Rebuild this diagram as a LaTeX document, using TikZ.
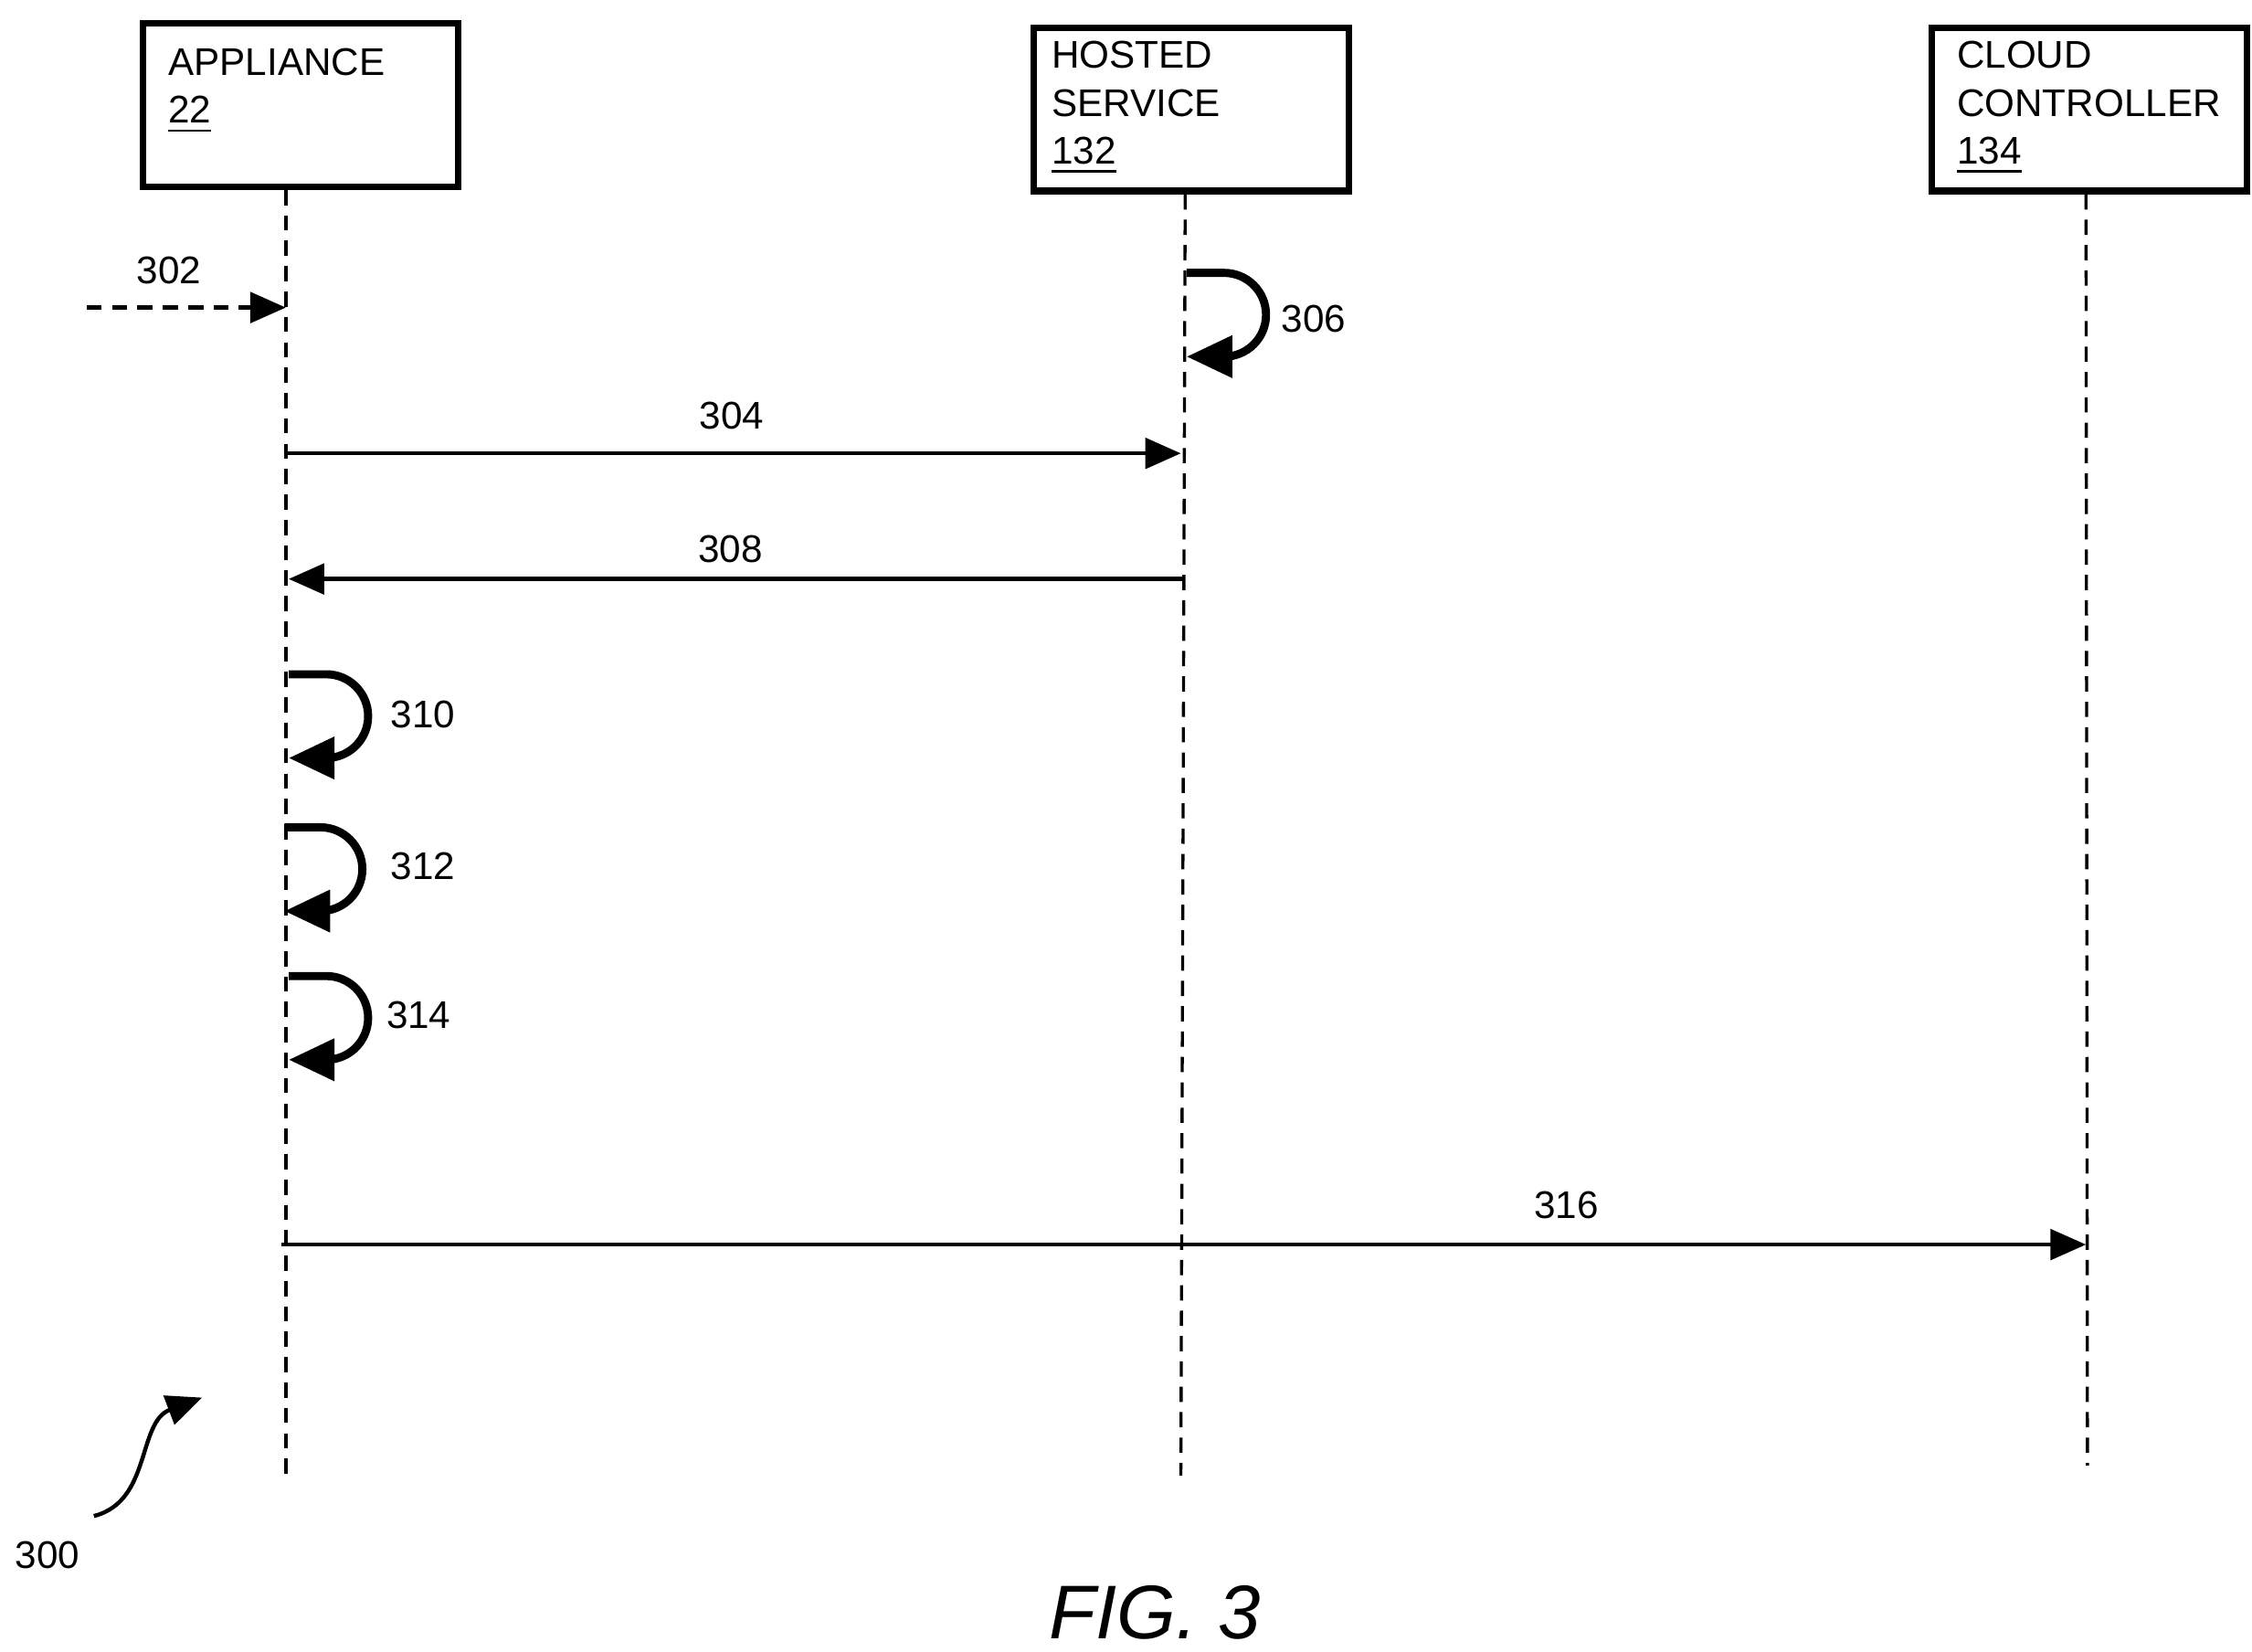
\documentclass[tikz,border=0pt]{standalone}
\usepackage{fontspec}
\setmainfont{Liberation Sans}
\usetikzlibrary{arrows.meta}
\begin{document}
\begin{tikzpicture}[x=0.1mm,y=-0.1mm,
 box/.style={draw,line width=1.3pt,minimum width=21.8mm,minimum height=11.3mm,inner sep=0pt},
 btxt/.style={anchor=north west,align=left,font=\fontsize{7.6pt}{9.4pt}\selectfont,inner sep=0pt},
 lab/.style={font=\fontsize{7.6pt}{9pt}\selectfont,inner sep=0pt},
 life/.style={dash pattern=on 3pt off 2pt,line width=0.6pt},
 msg/.style={line width=0.8pt,-{Triangle[length=7pt,width=6pt]}},
 loop/.style={line width=1.6pt,-{Triangle[length=9pt,width=8pt]}}]
\useasboundingbox (0,0) rectangle (1560,1144);
\node[box,anchor=north west] (a) at (97,14) {};
\node[box,anchor=north west] (h) at (714,17) {};
\node[box,anchor=north west] (c) at (1336,17) {};
\node[btxt] (at) at (116,33) {APPLIANCE\\\underline{22}};
\node[btxt] (ht) at (728,28) {HOSTED\\SERVICE\\\underline{132}};
\node[btxt] (ct) at (1355,28) {CLOUD\\CONTROLLER\\\underline{134}};
\coordinate (ae) at (198,1022);
\coordinate (he) at (818,1022);
\coordinate (ce) at (1446,1015);
\draw[life] (a.south -| 198,0) -- (ae);
\draw[life] (h.south -| 821,0) -- (he);
\draw[life] (c.south -| 1445,0) -- (ce);
% 302
\coordinate (s302) at (60,213); \coordinate (e302) at (198,213);
\draw[msg,dash pattern=on 3pt off 2pt] (s302) -- (e302);
\node[lab] (l302) at (117,187) {302};
% 306
\coordinate (s306) at (822,189); \coordinate (e306) at (822,247);
\draw[loop] (s306) -- (848,189) arc[start angle=-90,end angle=90,radius=29] -- (e306);
\node[lab] (l306) at (910,221) {306};
% 304
\coordinate (s304) at (198,314); \coordinate (e304) at (818,314);
\draw[msg] (s304) -- (e304);
\node[lab] (l304) at (507,288) {304};
% 308
\coordinate (s308) at (820,401); \coordinate (e308) at (200,401);
\draw[msg] (s308) -- (e308);
\node[lab] (l308) at (506,380) {308};
% loops
\coordinate (s310) at (200,467); \coordinate (e310) at (200,525);
\draw[loop] (s310) -- (226,467) arc[start angle=-90,end angle=90,radius=29] -- (e310);
\node[lab] (l310) at (293,495) {310};
\coordinate (s312) at (197,573); \coordinate (e312) at (197,631);
\draw[loop] (s312) -- (222,573) arc[start angle=-90,end angle=90,radius=29] -- (e312);
\node[lab] (l312) at (293,600) {312};
\coordinate (s314) at (200,676); \coordinate (e314) at (200,734);
\draw[loop] (s314) -- (226,676) arc[start angle=-90,end angle=90,radius=29] -- (e314);
\node[lab] (l314) at (290,703) {314};
% 316
\coordinate (s316) at (195,862); \coordinate (e316) at (1445,862);
\draw[msg] (s316) -- (e316);
\node[lab] (l316) at (1085,835) {316};
% 300
\coordinate (s300) at (65,1050); \coordinate (e300) at (140,968);
\draw[msg] (s300) .. controls (105,1040) and (95,985) .. (e300);
\node[lab] (l300) at (33,1077) {300};
\node[font=\fontsize{15pt}{18pt}\selectfont\itshape,inner sep=0pt] (fig) at (800,1117) {FIG. 3};
\end{tikzpicture}
\end{document}
